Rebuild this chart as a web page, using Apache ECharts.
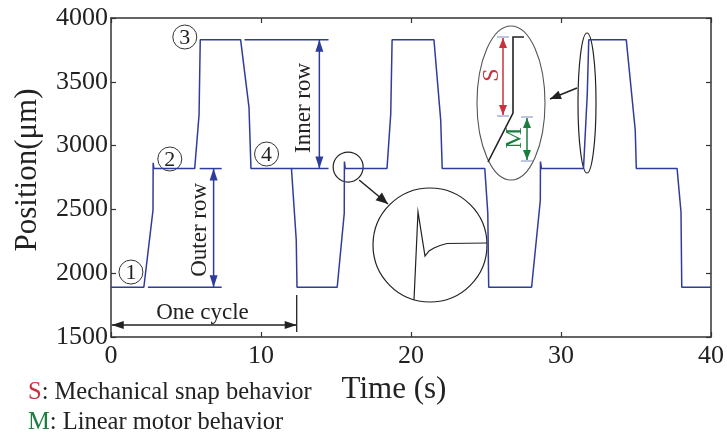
<!DOCTYPE html>
<html><head><meta charset="utf-8">
<script src="https://cdn.jsdelivr.net/npm/echarts@6/dist/echarts.min.js"></script>
<style>html,body{margin:0;padding:0;background:#fff}#c{width:727px;height:437px}</style>
</head><body><div id="c"></div>
<script>
// ---- data ----
const timeS = [0, 2.19, 2.80, 2.81, 2.86, 5.58, 5.87, 5.95, 8.64, 9.20, 9.33, 12.03, 12.35, 12.40,
  15.08, 15.55, 15.56, 15.62, 18.40, 18.65, 18.74, 21.53, 21.98, 22.08, 24.92, 25.12, 25.18,
  28.04, 28.62, 28.63, 28.70, 31.50, 31.75, 31.85, 34.35, 34.95, 35.02, 37.74, 38.00, 38.05, 40];
const positionUm = [1890, 1890, 2495, 2865, 2820, 2820, 3240, 3830, 3830, 3300, 2820, 2820, 2260, 1890,
  1890, 2470, 2875, 2820, 2820, 3250, 3830, 3830, 3200, 2820, 2820, 2470, 1890,
  1890, 2570, 2875, 2820, 2820, 3400, 3830, 3830, 3120, 2820, 2820, 2480, 1890, 1890];
const xTicks = [0, 10, 20, 30, 40];
const yTicks = [1500, 2000, 2500, 3000, 3500, 4000];
const levels = {outer: 1890, middle: 2820, inner: 3830};
const cycleEnd = 12.38;
const circledLabels = ['1', '2', '3', '4'];
const circledPos = [[1.33, 2009], [3.92, 2895], [4.92, 3851], [10.37, 2934]];

const SERIF = 'Liberation Serif';
const BLUE = '#2E3D9C', DARK = '#222', RED = '#C8323C', GREEN = '#1B7D3F';

const chart = echarts.init(document.getElementById('c'), null, {renderer: 'canvas'});
const axisLine = {lineStyle: {color: '#333', width: 1.5}};
const tick = {inside: true, length: 5, lineStyle: {color: '#333', width: 1.2}};
function xAx(pos, labels) {
  return {type: 'value', position: pos, min: xTicks[0], max: xTicks[xTicks.length - 1], interval: 10,
    axisLine: Object.assign({onZero: false}, axisLine), axisTick: tick,
    axisLabel: {show: labels, fontSize: 26, fontFamily: SERIF, color: '#222', margin: 6, formatter: v => String(v)},
    splitLine: {show: false}};
}
function yAx(pos, labels) {
  return {type: 'value', position: pos, min: yTicks[0], max: yTicks[yTicks.length - 1], interval: 500,
    axisLine: Object.assign({onZero: false}, axisLine), axisTick: tick,
    axisLabel: {show: labels, fontSize: 26, fontFamily: SERIF, color: '#222', margin: 3, formatter: v => String(v)},
    splitLine: {show: false}};
}
chart.setOption({
  animation: false,
  grid: {left: 111, right: 14, top: 18, bottom: 100},
  xAxis: [xAx('bottom', true), xAx('top', false)],
  yAxis: [yAx('left', true), yAx('right', false)],
  series: [{type: 'line', xAxisIndex: 0, yAxisIndex: 0, showSymbol: false, symbol: 'none',
    data: timeS.map((t, i) => [t, positionUm[i]]),
    lineStyle: {color: BLUE, width: 1.5}}]
});

const P = (t, v) => chart.convertToPixel({xAxisIndex: 0, yAxisIndex: 0}, [t, v]);
const G = [];
function line(a, b, color, w) {
  G.push({type: 'line', shape: {x1: a[0], y1: a[1], x2: b[0], y2: b[1]}, style: {stroke: color, lineWidth: w || 1.3}, silent: true});
}
function head(tip, from, color, len, wid) {
  len = len || 12; wid = wid || 4;
  const dx = tip[0] - from[0], dy = tip[1] - from[1], d = Math.hypot(dx, dy);
  const ux = dx / d, uy = dy / d, bx = tip[0] - ux * len, by = tip[1] - uy * len;
  G.push({type: 'polygon', shape: {points: [tip, [bx - uy * wid, by + ux * wid], [bx + uy * wid, by - ux * wid]]},
    style: {fill: color}, silent: true});
}
function arrow(a, b, color, both, w, len, wid) {
  line(a, b, color, w);
  head(b, a, color, len, wid);
  if (both) head(a, b, color, len, wid);
}
function text(str, pos, opt) {
  G.push(Object.assign({type: 'text', x: pos[0], y: pos[1], silent: true,
    style: Object.assign({text: str, fontFamily: SERIF, fontSize: 23, fill: DARK, align: 'center', verticalAlign: 'middle'}, opt.style || {})},
    opt.rotation ? {rotation: opt.rotation} : {}));
}

// Outer row
line(P(2.46, levels.outer), P(7.38, levels.outer), BLUE, 1.5);
line(P(5.91, levels.middle), P(7.38, levels.middle), BLUE, 1.5);
arrow(P(6.84, levels.middle), P(6.84, levels.outer), BLUE, true, 1.5);
text('Outer row', P(5.91, 2340), {rotation: Math.PI / 2});
// Inner row
line(P(8.9, levels.inner), P(14.5, levels.inner), BLUE, 1.5);
line(P(12.0, levels.middle), P(14.5, levels.middle), BLUE, 1.5);
arrow(P(13.89, levels.inner), P(13.89, levels.middle), BLUE, true, 1.5);
text('Inner row', P(12.89, 3295), {rotation: Math.PI / 2});
// One cycle
arrow(P(0.05, 1594), P(cycleEnd, 1594), DARK, true, 1.3);
line(P(cycleEnd, 1829), P(cycleEnd, 1540), DARK, 1.3);
text('One cycle', P(6.1, 1690), {});
// circled numbers
circledLabels.forEach((s, i) => {
  const c = P(circledPos[i][0], circledPos[i][1]);
  G.push({type: 'circle', shape: {cx: c[0], cy: c[1], r: 12}, style: {fill: '#fff', stroke: '#333', lineWidth: 1}, silent: true});
  text(s, [c[0], c[1] + 1], {style: {fontSize: 22}});
});
// small circle + inset
const sc = P(15.81, 2832);
G.push({type: 'circle', shape: {cx: sc[0], cy: sc[1], r: 15}, style: {fill: null, stroke: DARK, lineWidth: 1.2}, silent: true});
arrow([sc[0] + 11, sc[1] + 13], [388, 204], DARK, false, 1.5, 12, 5);
G.push({type: 'circle', shape: {cx: 430, cy: 245, r: 57}, style: {fill: null, stroke: DARK, lineWidth: 1.2}, silent: true});
G.push({type: 'polyline', shape: {points: [[414, 300], [418, 212], [425, 256], [429, 251], [434, 248], [440, 245.5], [447, 243.5], [487, 243]]},
  style: {stroke: DARK, lineWidth: 1.2, fill: null}, silent: true});
// ellipse inset
G.push({type: 'ellipse', shape: {cx: 511, cy: 103, rx: 34, ry: 77}, style: {fill: null, stroke: '#555', lineWidth: 1.1}, silent: true});
G.push({type: 'polyline', shape: {points: [[488, 162], [513, 113], [513, 37], [524, 37]]}, style: {stroke: DARK, lineWidth: 1.6, fill: null}, silent: true});
line([497, 37], [509, 37], '#7a8ac0', 1);
line([497, 116], [509, 116], '#7a8ac0', 1);
arrow([503, 38], [503, 115], RED, true, 1.5, 10, 4);
text('S', [492, 75], {rotation: Math.PI / 2, style: {fill: RED, fontSize: 24}});
line([521, 117], [533, 117], '#7a8ac0', 1);
line([521, 161], [533, 161], '#7a8ac0', 1);
arrow([527, 118], [527, 160], GREEN, true, 1.5, 10, 4);
text('M', [515, 138], {rotation: Math.PI / 2, style: {fill: GREEN, fontSize: 24}});
arrow([577, 88], [550, 99], DARK, false, 1.5, 11, 4.5);
G.push({type: 'ellipse', shape: {cx: 587, cy: 103, rx: 9, ry: 70}, style: {fill: null, stroke: DARK, lineWidth: 1.2}, silent: true});
// axis names
text('Time (s)', [394, 390], {style: {fontSize: 31}});
text('Position(μm)', [28, 170], {rotation: Math.PI / 2, style: {fontSize: 31}});
// legend notes
G.push({type: 'text', x: 28, y: 393, silent: true, style: {text: '{s|S}: Mechanical snap behavior', fontFamily: SERIF, fontSize: 24.5, fill: DARK, verticalAlign: 'middle',
  rich: {s: {fill: RED, fontFamily: SERIF, fontSize: 24.5}}}});
G.push({type: 'text', x: 28, y: 423, silent: true, style: {text: '{m|M}: Linear motor behavior', fontFamily: SERIF, fontSize: 24.5, fill: DARK, verticalAlign: 'middle',
  rich: {m: {fill: GREEN, fontFamily: SERIF, fontSize: 24.5}}}});

chart.setOption({graphic: G});
</script></body></html>
